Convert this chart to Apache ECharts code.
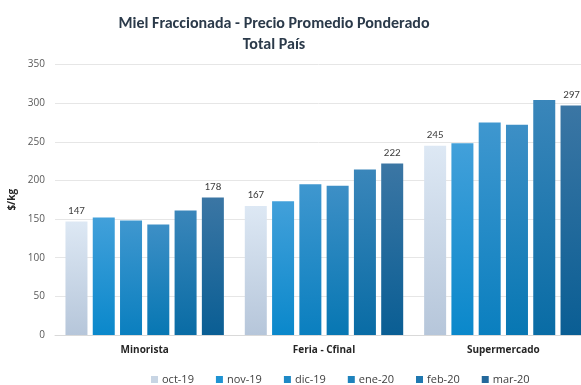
<!DOCTYPE html>
<html>
<head>
<meta charset="utf-8">
<script src="https://cdn.jsdelivr.net/npm/echarts@6/dist/echarts.min.js"></script>
<style>
  html, body { margin: 0; padding: 0; background: #ffffff; }
  #chart { width: 581px; height: 385px; }
</style>
</head>
<body>
<div id="chart"></div>
<script>
// Canales de venta (categorías del eje X)
const categories = ['Minorista', 'Feria - Cfinal', 'Supermercado'];

// Meses (una serie por mes)
const months = ['oct-19', 'nov-19', 'dic-19', 'ene-20', 'feb-20', 'mar-20'];

// Precio promedio ponderado en $/kg por canal
const oct19 = [147, 167, 245];
const nov19 = [152, 173, 248];
const dic19 = [148, 195, 275];
const ene20 = [143, 193, 272];
const feb20 = [161, 214, 304];
const mar20 = [178, 222, 297];

const yTicks = { min: 0, max: 350, interval: 50 };

const seriesValues = [oct19, nov19, dic19, ene20, feb20, mar20];

// Degradados verticales de cada mes: [arriba, abajo, color de leyenda]
const palette = [
  ['#dde8f4', '#b6c6da', '#c8d5e4'],
  ['#42a0da', '#0a88cb', '#1f93d2'],
  ['#3f97cf', '#0a7fbf', '#1e89c6'],
  ['#3d8fc6', '#0777b3', '#1e82bc'],
  ['#3a86ba', '#096ca5', '#1f78b0'],
  ['#3b76a4', '#0a5e94', '#24689b']
];

const showLabel = [true, false, false, false, false, true];

const chart = echarts.init(document.getElementById('chart'), null, { renderer: 'canvas' });

const series = months.map((m, i) => ({
  name: m,
  type: 'bar',
  data: seriesValues[i],
  barWidth: 22,
  barGap: '24%',
  itemStyle: {
    color: new echarts.graphic.LinearGradient(0, 0, 0, 1, [
      { offset: 0, color: palette[i][0] },
      { offset: 1, color: palette[i][1] }
    ])
  },
  label: {
    show: showLabel[i],
    position: 'top',
    distance: 5,
    color: '#404040',
    fontSize: 11,
    fontFamily: 'Carlito, "Open Sans", sans-serif'
  }
}));

chart.setOption({
  animation: false,
  backgroundColor: '#ffffff',
  color: palette.map(p => p[2]),
  title: {
    text: 'Miel Fraccionada - Precio Promedio Ponderado\nTotal País',
    left: 269,
    textAlign: 'center',
    top: 8,
    textStyle: {
      fontFamily: 'Carlito, "Open Sans", sans-serif',
      fontSize: 16,
      fontWeight: 'bold',
      color: '#2b3a4a',
      lineHeight: 21
    }
  },
  legend: {
    data: months.map((m, i) => ({ name: m, itemStyle: { color: palette[i][2] } })),
    left: 146,
    top: 369,
    itemWidth: 7,
    itemHeight: 7,
    itemGap: 22,
    icon: 'rect',
    textStyle: {
      fontFamily: '"Open Sans", sans-serif',
      fontSize: 11,
      color: '#404040',
      padding: [0, 0, 0, -1]
    }
  },
  grid: {
    left: 55,
    top: 64.5,
    bottom: 50,
    width: 538,
    containLabel: false,
    outerBoundsMode: 'none'
  },
  xAxis: {
    type: 'category',
    data: categories,
    axisLine: { show: true, lineStyle: { color: '#d9d9d9' } },
    axisTick: { show: false },
    axisLabel: {
      margin: 10,
      color: '#262626',
      fontSize: 10,
      fontWeight: 'bold',
      fontFamily: '"Open Sans", sans-serif'
    }
  },
  yAxis: {
    type: 'value',
    min: yTicks.min,
    max: yTicks.max,
    interval: yTicks.interval,
    name: '$/kg',
    nameLocation: 'middle',
    nameGap: 31,
    nameTextStyle: {
      fontFamily: '"Open Sans", sans-serif',
      fontSize: 10,
      fontWeight: 'bold',
      color: '#262626'
    },
    axisLine: { show: false },
    axisTick: { show: false },
    axisLabel: {
      margin: 10,
      color: '#595959',
      fontSize: 10,
      fontFamily: '"Open Sans", sans-serif'
    },
    splitLine: { lineStyle: { color: '#e6e6e6' } }
  },
  series: series
});
</script>
</body>
</html>
